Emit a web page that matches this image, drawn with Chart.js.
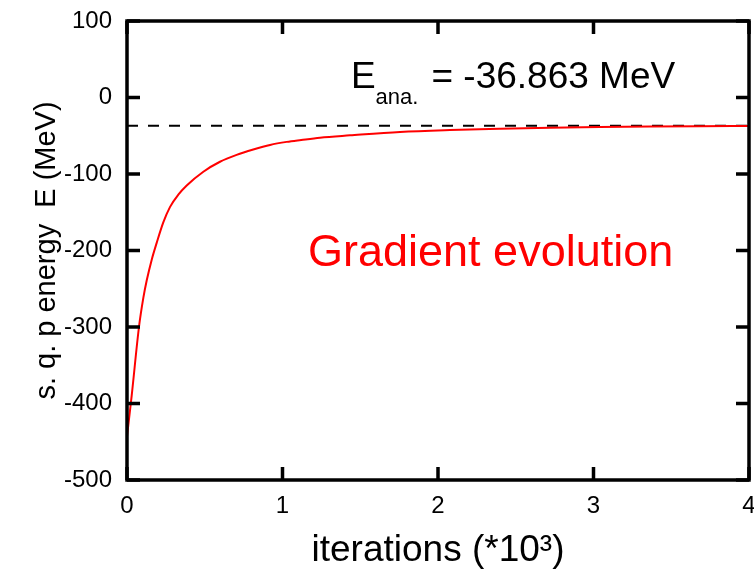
<!DOCTYPE html>
<html>
<head>
<meta charset="utf-8">
<script src="https://cdn.jsdelivr.net/npm/chart.js@4.4.1/dist/chart.umd.min.js"></script>
<style>
  html, body { margin: 0; padding: 0; background: #fff; }
</style>
</head>
<body>
<canvas id="energyChart" width="754" height="569"></canvas>
<script>
// iterations (*10^3) and s.q.p. energy (MeV)
const iterations = [0, 0.03, 0.077, 0.105, 0.127, 0.159, 0.191, 0.234, 0.277, 0.33, 0.384, 0.491,
    0.598, 0.705, 0.812, 0.92, 1.027, 1.12, 1.241, 1.434, 1.756, 2.077, 2.399, 2.72, 3.04, 3.36, 3.68, 4.0];
const energy = [-443, -390, -300, -262, -239, -212, -190, -163, -143, -127, -115, -97,
    -84, -75, -68, -62, -58, -55.5, -52.5, -49.5, -45, -42.5, -40.8, -39.5, -38.6, -38, -37.6, -37.3];
const analyticEnergy = -36.863;
const xTicks = [0, 1, 2, 3, 4];
const yTicks = [-500, -400, -300, -200, -100, 0, 100];

const FONT = '"Liberation Sans", Arial, sans-serif';

// box frame with inward ticks on all four sides, plus the text labels
const framePlugin = {
    id: 'frame',
    afterDatasetsDraw(chart) {
        const { ctx, chartArea: a, scales: { x, y } } = chart;
        ctx.save();
        ctx.strokeStyle = '#000';
        ctx.lineWidth = 3.5;
        ctx.strokeRect(a.left, a.top, a.right - a.left, a.bottom - a.top);
        ctx.beginPath();
        xTicks.forEach(v => {
            const px = x.getPixelForValue(v);
            ctx.moveTo(px, a.bottom); ctx.lineTo(px, a.bottom - 13);
            ctx.moveTo(px, a.top); ctx.lineTo(px, a.top + 13);
        });
        yTicks.forEach(v => {
            const py = y.getPixelForValue(v);
            ctx.moveTo(a.left, py); ctx.lineTo(a.left + 13, py);
            ctx.moveTo(a.right, py); ctx.lineTo(a.right - 13, py);
        });
        ctx.stroke();

        ctx.textBaseline = 'alphabetic';
        ctx.textAlign = 'left';

        // "Gradient evolution"
        ctx.fillStyle = '#ff0000';
        ctx.font = '45px ' + FONT;
        ctx.fillText('Gradient evolution', x.getPixelForValue(1.164), y.getPixelForValue(-220));

        // E_ana. = -36.863 MeV
        ctx.fillStyle = '#000';
        let tx = x.getPixelForValue(1.44);
        const ty = y.getPixelForValue(12);
        ctx.font = '37px ' + FONT;
        ctx.fillText('E', tx, ty);
        tx += ctx.measureText('E').width;
        ctx.font = '22px ' + FONT;
        ctx.fillText('ana.', tx, ty + 16);
        tx += ctx.measureText('ana.').width + 13;
        ctx.font = '37px ' + FONT;
        ctx.fillText('= ' + analyticEnergy.toFixed(3) + ' MeV', tx, ty);
        ctx.restore();
    }
};

const ctx = document.getElementById('energyChart').getContext('2d');
const energyChart = new Chart(ctx, {
    type: 'line',
    data: {
        datasets: [{
            data: iterations.map((it, i) => ({ x: it, y: energy[i] })),
            borderColor: '#ff0000',
            borderWidth: 2,
            pointRadius: 0,
            cubicInterpolationMode: 'monotone',
            fill: false
        }, {
            data: [{ x: 0, y: analyticEnergy }, { x: 4, y: analyticEnergy }],
            borderColor: '#000',
            borderWidth: 2,
            borderDash: [11, 10],
            pointRadius: 0,
            fill: false
        }]
    },
    options: {
        responsive: false,
        animation: false,
        layout: { padding: { top: 21, right: 5, left: 0, bottom: 0 } },
        plugins: {
            legend: { display: false },
            tooltip: { enabled: false }
        },
        scales: {
            x: {
                type: 'linear',
                min: 0,
                max: 4,
                grid: { display: false, drawTicks: false },
                border: { display: false },
                ticks: { stepSize: 1, color: '#000', padding: 12, font: { family: FONT, size: 24 } },
                title: {
                    display: true,
                    text: 'iterations (*10³)',
                    color: '#000',
                    padding: { top: 0, bottom: 0 },
                    font: { family: FONT, size: 37, lineHeight: 1 }
                },
                afterFit(scale) {
                    scale.height = 89;
                    scale.paddingLeft = 0;
                    scale.paddingRight = 0;
                }
            },
            y: {
                min: -500,
                max: 100,
                grid: { display: false, drawTicks: false },
                border: { display: false },
                ticks: { stepSize: 100, color: '#000', padding: 15, font: { family: FONT, size: 24 } },
                title: {
                    display: true,
                    text: 's. q. p energy  E (MeV)',
                    color: '#000',
                    padding: { top: 32, bottom: 0 },
                    font: { family: FONT, size: 29, lineHeight: 1 }
                },
                afterFit(scale) {
                    scale.width = 127;
                    scale.paddingTop = 0;
                    scale.paddingBottom = 0;
                }
            }
        }
    },
    plugins: [framePlugin]
});
</script>
</body>
</html>
